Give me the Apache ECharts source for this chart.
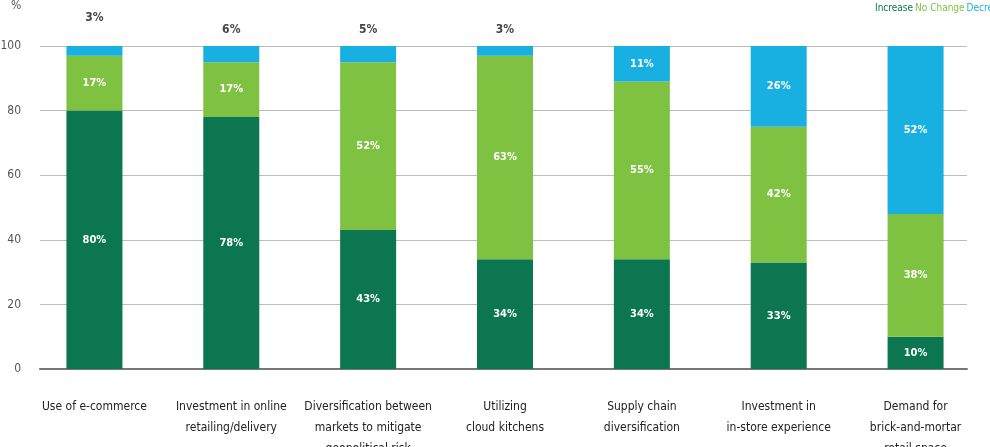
<!DOCTYPE html>
<html>
<head>
<meta charset="utf-8">
<script src="https://cdn.jsdelivr.net/npm/echarts@6/dist/echarts.min.js"></script>
<style>
  html, body { margin: 0; padding: 0; background: #fff; }
  #chart { width: 990px; height: 447px; }
</style>
</head>
<body>
<div id="chart"></div>
<script>
// Share of respondents (%) by expected change
const categories = [
  'Use of e-commerce',
  'Investment in online\nretailing/delivery',
  'Diversification between\nmarkets to mitigate\ngeopolitical risk',
  'Utilizing\ncloud kitchens',
  'Supply chain\ndiversification',
  'Investment in\nin-store experience',
  'Demand for\nbrick-and-mortar\nretail space'
];
const increase = [80, 78, 43, 34, 34, 33, 10];
const noChange = [17, 17, 52, 63, 55, 42, 38];
const decrease = [3, 6, 5, 3, 11, 26, 52];
const yTicks = [0, 20, 40, 60, 80, 100];

const FONT = '"DejaVu Sans", sans-serif';
const STRETCH = 'condensed';
const C_INC = '#0b7650';
const C_NO = '#7fc242';
const C_DEC = '#18b0e0';

const chart = echarts.init(document.getElementById('chart'));

const insideLabel = {
  show: true,
  position: 'inside',
  color: '#fff',
  fontFamily: FONT,
  fontStyle: STRETCH,
  fontSize: 11,
  fontWeight: 'bold',
  formatter: p => p.value + '%'
};

// small "decrease" shares are written above the bar
const decreaseData = decrease.map((v, i) => {
  if (v >= 10) return v;
  return {
    value: v,
    label: {
      show: true,
      position: 'top',
      distance: i === 0 ? 22 : 10,
      color: '#444',
      fontWeight: 'bold',
      fontSize: 12
    }
  };
});

chart.setOption({
  animation: false,
  textStyle: { fontFamily: FONT },
  legend: {
    left: 870,
    top: -4,
    width: 400,
    orient: 'horizontal',
    icon: 'none',
    itemWidth: 0,
    itemGap: 2,
    selectedMode: false,
    textStyle: { fontFamily: FONT, fontStyle: STRETCH, fontSize: 10, padding: [0, 0, 0, -5] },
    data: [
      { name: 'Increase', textStyle: { color: C_INC } },
      { name: 'No Change', textStyle: { color: C_NO } },
      { name: 'Decrease', textStyle: { color: C_DEC } }
    ]
  },
  graphic: [{
    type: 'text',
    left: 11,
    top: 0,
    style: { text: '%', fill: '#555', font: STRETCH + ' 12px ' + FONT }
  }],
  grid: [
    { left: 26, right: 6, top: 46, bottom: 78, outerBoundsMode: 'none', containLabel: false },
    { left: 40, right: 23, top: 46, bottom: 78, outerBoundsMode: 'none', containLabel: false }
  ],
  xAxis: [
    {
      type: 'category',
      gridIndex: 0,
      data: categories,
      axisLine: { show: false },
      axisTick: { show: false },
      axisLabel: {
        interval: 0,
        margin: 27,
        color: '#222',
        fontFamily: FONT,
        fontStyle: STRETCH,
        fontSize: 12,
        lineHeight: 21
      }
    },
    {
      type: 'category',
      gridIndex: 1,
      data: ['a'],
      axisLine: { show: true, lineStyle: { color: '#777', width: 2 } },
      axisTick: { show: false },
      axisLabel: { show: false }
    }
  ],
  yAxis: [
    {
      type: 'value',
      gridIndex: 0,
      min: 0, max: 100, interval: 20,
      show: false
    },
    {
      type: 'value',
      gridIndex: 1,
      min: yTicks[0], max: yTicks[yTicks.length - 1], interval: 20,
      axisLine: { show: false },
      axisTick: { show: false },
      splitLine: { lineStyle: { color: '#bdbdbd', width: 1 } },
      axisLabel: { color: '#555', fontFamily: FONT, fontStyle: STRETCH, fontSize: 12, margin: 19 }
    }
  ],
  series: [
    {
      name: 'Increase', type: 'bar', stack: 'all', barWidth: 56,
      xAxisIndex: 0, yAxisIndex: 0, z: 3,
      itemStyle: { color: C_INC },
      label: insideLabel,
      data: increase
    },
    {
      name: 'No Change', type: 'bar', stack: 'all', barWidth: 56,
      xAxisIndex: 0, yAxisIndex: 0, z: 3,
      itemStyle: { color: C_NO },
      label: insideLabel,
      data: noChange
    },
    {
      name: 'Decrease', type: 'bar', stack: 'all', barWidth: 56,
      xAxisIndex: 0, yAxisIndex: 0, z: 3,
      itemStyle: { color: C_DEC },
      label: insideLabel,
      data: decreaseData
    }
  ]
});
</script>
</body>
</html>
